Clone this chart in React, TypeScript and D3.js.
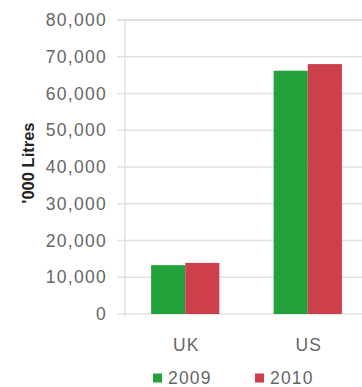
import React from "react";
import * as d3 from "d3";

const categories = ["UK", "US"];
const seriesNames = ["2009", "2010"];
const values2009 = [13300, 66200];
const values2010 = [13900, 68000];
const yTicks = [0, 10000, 20000, 30000, 40000, 50000, 60000, 70000, 80000];
const colors = ["#23a23b", "#cd3f4b"];

export default function App() {
  const W = 362, H = 387;
  const x0 = 125, x1 = 368, yTop = 20, yBot = 314;
  const x = d3.scaleBand<string>().domain(categories).range([x0, x1]).paddingInner(0.443).paddingOuter(0.213);
  const xs = d3.scaleBand<string>().domain(seriesNames).range([0, x.bandwidth()]);
  const y = d3.scaleLinear().domain([0, 80000]).range([yBot, yTop]);
  const fmt = d3.format(",");
  const series = [values2009, values2010];
  const font = "'Liberation Sans', Arial, sans-serif";
  return (
    <svg width={W} height={H} style={{ position: "absolute", left: 0, top: 0, background: "#fff" }}>
      {yTicks.map((t) => (
        <g key={t}>
          <line x1={117} x2={W} y1={y(t)} y2={y(t)} stroke="#e2e2e2" strokeWidth={t === 80000 ? 2 : 1.5} />
          <text x={107} y={y(t)} dy="0.35em" textAnchor="end" fontFamily={font} fontSize={17.5} letterSpacing={1.3} fill="#666">{fmt(t)}</text>
        </g>
      ))}
      <line x1={x0} x2={x0} y1={yTop} y2={yBot + 3} stroke="#e2e2e2" strokeWidth={1.5} />
      {categories.map((c, i) => (
        <g key={c}>
          {series.map((vals, s) => (
            <rect key={s} x={(x(c) as number) + (xs(seriesNames[s]) as number)} y={y(vals[i])} width={xs.bandwidth()} height={yBot - y(vals[i])} fill={colors[s]} />
          ))}
          <text x={(x(c) as number) + x.bandwidth() / 2 + 1} y={345} dy="0.35em" textAnchor="middle" fontFamily={font} fontSize={17.5} letterSpacing={1} fill="#666">{c}</text>
        </g>
      ))}
      <text transform={`translate(28,163) rotate(-90)`} textAnchor="middle" dy="0.35em" fontFamily={font} fontSize={16.5} fontWeight="bold" fill="#222">'000 Litres</text>
      {seriesNames.map((s, i) => (
        <g key={s} transform={`translate(${[153, 255][i]},378)`}>
          <rect x={0} y={-4.5} width={9} height={9} fill={colors[i]} />
          <text x={15} y={0} dy="0.35em" fontFamily={font} fontSize={17.5} letterSpacing={1.2} fill="#666">{s}</text>
        </g>
      ))}
    </svg>
  );
}
